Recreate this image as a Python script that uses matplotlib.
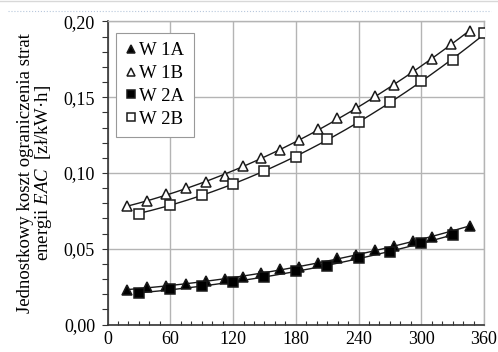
import numpy as np
import matplotlib.pyplot as plt
from matplotlib.ticker import MultipleLocator, FuncFormatter
from matplotlib.lines import Line2D

plt.rcParams['font.family'] = 'Liberation Serif'
plt.rcParams['mathtext.fontset'] = 'custom'
plt.rcParams['mathtext.it'] = 'Liberation Serif:italic'
plt.rcParams['mathtext.rm'] = 'Liberation Serif'

# Data
x_1 = [18.5, 37.5, 55.8, 75, 94, 112.6, 129.5, 146.8, 165, 183, 201.5, 219.7,
       237.8, 256, 274, 292, 310, 328.5, 346.7]
w1a = [0.0227, 0.0249, 0.0256, 0.0267, 0.0287, 0.0300, 0.0315, 0.0338, 0.0364,
       0.0381, 0.0404, 0.0437, 0.0458, 0.0491, 0.0520, 0.0553, 0.0579, 0.0612, 0.0652]
w1b = [0.0782, 0.0817, 0.0859, 0.0898, 0.0940, 0.0982, 0.1047, 0.1096, 0.1153,
       0.1215, 0.1288, 0.1360, 0.1428, 0.1505, 0.1584, 0.1674, 0.1753, 0.1850, 0.1938]
x_2a = [30, 60, 90, 120, 150, 180, 210, 240, 270, 300, 330]
w2a = [0.0206, 0.0234, 0.0254, 0.0282, 0.0311, 0.0353, 0.0388, 0.0437, 0.0480,
       0.0540, 0.0590]
x_2b = [30, 60, 90, 120, 150, 180, 210, 240, 270, 300, 330, 360]
w2b = [0.0731, 0.0790, 0.0854, 0.0927, 0.1013, 0.1107, 0.1222, 0.1334, 0.1470,
       0.1606, 0.1743, 0.1921]

fig = plt.figure(figsize=(4.98, 3.52), dpi=100)
ax = fig.add_axes([0.216, 0.078, 0.756, 0.861])

# page artefacts at the top
fig.add_artist(Line2D([0, 1], [0.997, 0.997], color='#d8d8d8', lw=1.0, transform=fig.transFigure))
fig.add_artist(Line2D([0.016, 0.985], [0.968, 0.968], color='#b8c8dc', lw=0.8, ls=':',
                      transform=fig.transFigure))

series = [
    (x_1, w1a, '^', 'black', 'W 1A'),
    (x_1, w1b, '^', 'white', 'W 1B'),
    (x_2a, w2a, 's', 'black', 'W 2A'),
    (x_2b, w2b, 's', 'white', 'W 2B'),
]
for xs, ys, m, fc, lab in series:
    xs = np.array(xs)
    ys = np.array(ys)
    p = np.polyfit(xs, ys, 2)
    xf = np.linspace(xs[0], xs[-1], 200)
    ax.plot(xf, np.polyval(p, xf), color='#1a1a1a', lw=1.0, zorder=2)
    ax.plot(xs, ys, ls='none', marker=m, ms=7.5, mfc=fc, mec='#1a1a1a', mew=1.1,
            label=lab, zorder=3)

ax.set_xlim(0, 360)
ax.set_ylim(0, 0.20)
ax.xaxis.set_major_locator(MultipleLocator(60))
ax.xaxis.set_minor_locator(MultipleLocator(10))
ax.yaxis.set_major_locator(MultipleLocator(0.05))
ax.yaxis.set_minor_locator(MultipleLocator(0.01))
ax.yaxis.set_major_formatter(FuncFormatter(lambda v, pos: f'{v:.2f}'.replace('.', ',')))
ax.grid(True, which='major', color='#b4b4b4', lw=1.0)
ax.set_axisbelow(True)

ax.tick_params(axis='x', which='both', direction='in', length=3, width=0.8,
               labelsize=13, pad=5, color='#333333')
ax.tick_params(axis='x', which='major', length=0)
ax.tick_params(axis='y', which='both', direction='out', length=4, width=0.8,
               labelsize=13, pad=5, color='#333333')
for s in ['left', 'bottom']:
    ax.spines[s].set_color('#333333')
    ax.spines[s].set_linewidth(1.2)
for s in ['top', 'right']:
    ax.spines[s].set_color('#b4b4b4')
    ax.spines[s].set_linewidth(1.0)

ax.set_ylabel('Jednostkowy koszt ograniczenia strat\nenergii $\\mathit{EAC}$  [zł/kW·h]',
              fontsize=13.5, labelpad=7, linespacing=0.95)

leg = ax.legend(loc='upper left', bbox_to_anchor=(0.022, 0.962), fontsize=13.5,
                handlelength=0.6, handletextpad=0.15, markerscale=0.75,
                labelspacing=0.3, borderpad=0.5, borderaxespad=0,
                fancybox=False, framealpha=1)
leg.get_frame().set_edgecolor('#999999')
leg.get_frame().set_linewidth(0.8)

fig.savefig('out.png', dpi=100)
